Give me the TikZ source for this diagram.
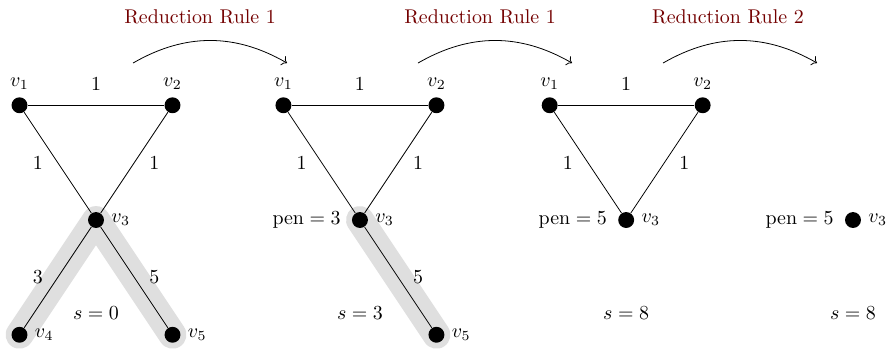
\documentclass[tikz,border=0pt]{standalone}
\usepackage{amsmath}
\usepackage{tikz}
\usetikzlibrary{positioning,arrows.meta,backgrounds}

\begin{document}
\begin{tikzpicture}[x=1.35cm,y=1.35cm,
    vtx/.style={circle,fill=black,inner sep=0pt,minimum size=8pt},
    hl/.style={line width=14pt,gray!25,line cap=round,line join=round},
    rule/.style={text=red!45!black},
    move/.style={->,bend left=30}]
    \useasboundingbox (-1.255,-1.686) rectangle (10.418,2.876);
    % first graph
    \node[vtx,label=above:$v_1$] (a1) at (-1,1.5) {};
    \node[vtx,label=above:$v_2$] (a2) at (1,1.5) {};
    \node[vtx,label=right:$v_3$] (a3) at (0,0) {};
    \node[vtx,label=right:$v_4$] (a4) at (-1,-1.5) {};
    \node[vtx,label=right:$v_5$] (a5) at (1,-1.5) {};
    \draw(a1)--node[above=4pt]{1}(a2);
    \draw(a1)--node[left=4pt]{1}(a3);\draw(a2)--node[right=4pt]{1}(a3);
    \draw(a4)--node[left=4pt]{3}(a3);\draw(a3)--node[right=4pt]{5}(a5);
    \node (s1) at (0,-1.216) {$s=0$};
    % second graph
    \node[vtx,label=above:$v_1$] (b1) at (2.45,1.5) {};
    \node[vtx,label=above:$v_2$] (b2) at (4.45,1.5) {};
    \node[vtx,label=right:$v_3$,label={[label distance=2pt]left:$\mathrm{pen}=3$}] (b3) at (3.45,0) {};
    \node[vtx,label=right:$v_5$] (b5) at (4.45,-1.5) {};
    \draw(b1)--node[above=4pt]{1}(b2);
    \draw(b1)--node[left=4pt]{1}(b3);\draw(b2)--node[right=4pt]{1}(b3);
    \draw(b3)--node[right=4pt]{5}(b5);
    \node (s2) at (3.45,-1.216) {$s=3$};
    % third graph
    \node[vtx,label=above:$v_1$] (c1) at (5.93,1.5) {};
    \node[vtx,label=above:$v_2$] (c2) at (7.93,1.5) {};
    \node[vtx,label=right:$v_3$,label={[label distance=2pt]left:$\mathrm{pen}=5$}] (c3) at (6.93,0) {};
    \draw(c1)--node[above=4pt]{1}(c2);
    \draw(c1)--node[left=4pt]{1}(c3);\draw(c2)--node[right=4pt]{1}(c3);
    \node (s3) at (6.93,-1.216) {$s=8$};
    % last graph
    \node[vtx,label=right:$v_3$,label={[label distance=2pt]left:$\mathrm{pen}=5$}] (d3) at (9.895,0) {};
    \node (s4) at (9.895,-1.216) {$s=8$};
    % highlighted paths
    \begin{scope}[on background layer]
    \draw[hl](a4.center)--(a3.center)--(a5.center);
    \draw[hl](b3.center)--(b5.center);
    \end{scope}
    % reduction steps
    \coordinate (m1s) at (0.484,2.052);\coordinate (m1e) at (2.497,2.052);
    \coordinate (m2s) at (4.209,2.052);\coordinate (m2e) at (6.222,2.052);
    \coordinate (m3s) at (7.412,2.052);\coordinate (m3e) at (9.425,2.052);
    \draw[move](m1s) to (m1e);\draw[move](m2s) to (m2e);\draw[move](m3s) to (m3e);
    \node[rule] (r1) at (1.36,2.654) {Reduction Rule 1};
    \node[rule] (r2) at (5.02,2.654) {Reduction Rule 1};
    \node[rule] (r3) at (8.26,2.654) {Reduction Rule 2};
\end{tikzpicture}
\end{document}
